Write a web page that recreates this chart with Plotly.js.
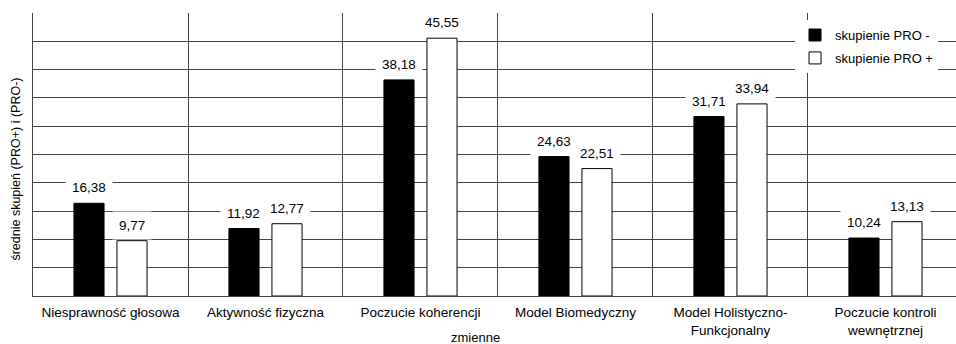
<!DOCTYPE html>
<html>
<head>
<meta charset="utf-8">
<script src="https://cdn.plot.ly/plotly-3.0.1.min.js"></script>
<style>html,body{margin:0;padding:0;background:#fff;}#chart{width:956px;height:344px;}</style>
</head>
<body>
<div id="chart"></div>
<script>
const categories = ["Niesprawność głosowa", "Aktywność fizyczna", "Poczucie koherencji", "Model Biomedyczny", "Model Holistyczno-<br>Funkcjonalny", "Poczucie kontroli<br>wewnętrznej"];
const proMinus = [16.38, 11.92, 38.18, 24.63, 31.71, 10.24];
const proPlus = [9.77, 12.77, 45.55, 22.51, 33.94, 13.13];
const seriesNames = ["skupienie PRO -", "skupienie PRO +"];
const xTitle = 'zmienne';
const yTitle = 'średnie skupień (PRO+) i (PRO-)';

const fmt = v => v.toFixed(2).replace('.', ',');
const FAM = 'Liberation Sans, Arial, Helvetica, sans-serif';
const labelFont = {family: FAM, size: 13.5, color: '#000'};

const traces = [
  {type: 'bar', name: seriesNames[0], x: categories, y: proMinus,
   marker: {color: '#000', line: {color: '#000', width: 1}}, legendgroup: 'a'},
  {type: 'bar', name: seriesNames[1], x: categories, y: proPlus,
   marker: {color: '#fff', line: {color: '#000', width: 1}}, legendgroup: 'b'}
];

const annotations = [];
categories.forEach((c, i) => {
  [[proMinus, -21.5], [proPlus, 21.5]].forEach(([arr, dx]) => {
    annotations.push({x: c, y: arr[i], xref: 'x', yref: 'y', text: fmt(arr[i]),
      showarrow: false, xshift: dx, yanchor: 'bottom', yshift: 1,
      bgcolor: '#fff', borderpad: 6, font: labelFont});
  });
});
annotations.push({text: xTitle, xref: 'paper', yref: 'paper', x: 0.479, y: -0.145,
  xanchor: 'center', yanchor: 'middle', showarrow: false,
  font: {family: FAM, size: 13, color: '#000'}});
annotations.push({text: yTitle, xref: 'paper', yref: 'paper', x: -0.0185, y: 0.45,
  xanchor: 'center', yanchor: 'middle', textangle: -90, showarrow: false,
  font: {family: FAM, size: 12.5, color: '#000'}});

const layout = {
  width: 956, height: 344,
  margin: {l: 33, r: 0, t: 13, b: 48},
  paper_bgcolor: '#fff', plot_bgcolor: '#fff',
  font: {family: FAM, size: 13, color: '#000'},
  barmode: 'group', bargap: 0.445, bargroupgap: 0.3,
  showlegend: true,
  legend: {x: 0.8256, y: 0.975, xanchor: 'left', yanchor: 'top', bgcolor: '#fff',
    font: {family: FAM, size: 13, color: '#000'},
    traceorder: 'grouped', tracegroupgap: 3, itemwidth: 30},
  xaxis: {type: 'category', range: [-0.5, 5.455], tickson: 'boundaries',
    showgrid: true, gridcolor: '#444', gridwidth: 1, ticks: '', ticklen: 0,
    ticklabelstandoff: 4,
    showline: true, linecolor: '#444', linewidth: 1, zeroline: false,
    tickfont: labelFont, fixedrange: true},
  yaxis: {range: [0, 50], dtick: 5, showgrid: true, gridcolor: '#444', gridwidth: 1,
    showticklabels: false, ticks: '', showline: true, linecolor: '#444', linewidth: 1,
    zeroline: false, fixedrange: true},
  annotations: annotations
};

Plotly.newPlot('chart', traces, layout, {displayModeBar: false, staticPlot: true});
</script>
</body>
</html>
